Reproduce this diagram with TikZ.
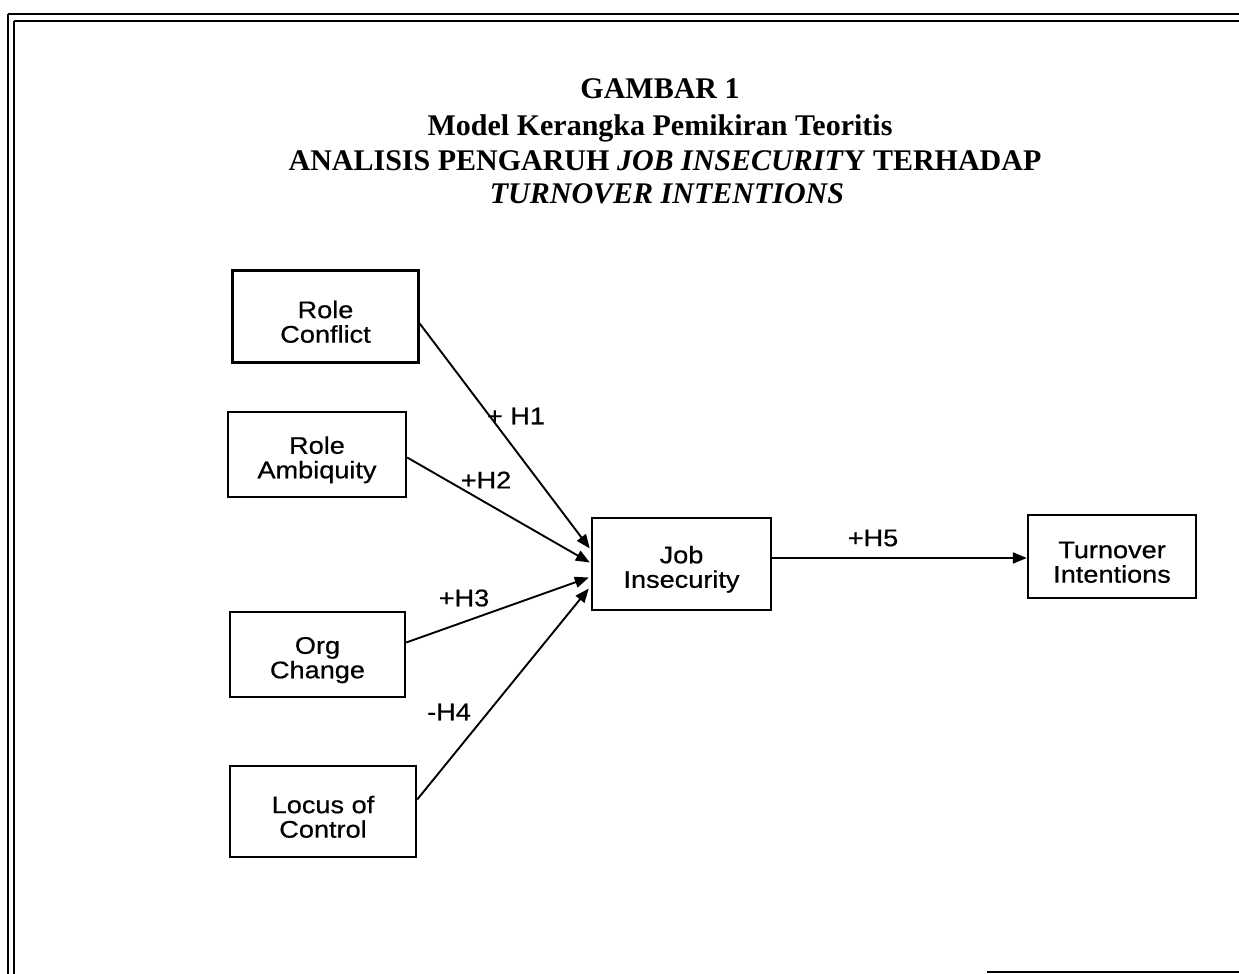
\documentclass[tikz,border=0pt]{standalone}
\usepackage{fontspec}
\setmainfont{Liberation Serif}
\newfontfamily\arialf[FakeStretch=1.13,FakeBold=0.6]{Liberation Sans}
\usetikzlibrary{arrows.meta,calc}
\newcommand\upstr{\rule{0pt}{28pt}}
\begin{document}
\begin{tikzpicture}[x=1pt,y=-1pt,
  box/.style={draw,line width=2.4pt,align=center,font=\arialf\fontsize{24}{24.5}\selectfont,inner sep=0pt},
  lbl/.style={font=\arialf\fontsize{24}{25}\selectfont,inner sep=0pt},
  ttl/.style={font=\fontsize{30}{34}\selectfont\bfseries,anchor=base,inner sep=0pt},
  conn/.style={line width=1.9pt,-{Triangle[length=14pt,width=11pt]}},
  frame/.style={line width=2.8pt}]
\useasboundingbox (0,0) rectangle (1239,974);
% frame
\draw[frame] (8,14) -- (1239,14);
\draw[line width=2pt] (14,21) -- (1239,21);
\draw[frame] (8,14) -- (8,974);
\draw[line width=2pt] (14,21) -- (14,974);
\draw[line width=1.5pt] (987,972) -- (1239,972);
% title
\node[ttl] (t1) at (660,99) {GAMBAR 1};
\node[ttl] (t2) at (660,135) {Model Kerangka Pemikiran Teoritis};
\node[ttl] (t3) at (665,170) {ANALISIS PENGARUH \textit{JOB INSECURIT}Y TERHADAP};
\node[ttl] (t4) at (667,203) {\textit{TURNOVER INTENTIONS}};
% boxes
\node[box,minimum width=186pt,minimum height=92pt] (rc) at (325.5,316.5) {\upstr Role\\Conflict};
\node[box,minimum width=178pt,minimum height=85pt] (ra) at (317,454.5) {\upstr Role\\Ambiquity};
\node[box,minimum width=175pt,minimum height=85pt] (oc) at (317.5,654.5) {\upstr Org\\Change};
\node[box,minimum width=186pt,minimum height=91pt] (lc) at (323,811.5) {\upstr Locus of\\Control};
\node[box,minimum width=179pt,minimum height=92pt] (ji) at (681.5,564) {\upstr Job\\Insecurity};
\node[box,minimum width=168pt,minimum height=83pt] (ti) at (1112,556.5) {\upstr Turnover\\Intentions};
% connectors
\draw[conn] ($(rc.east)+(0,7)$) -- ($(ji.west)+(-1,-15.5)$);
\draw[conn] ($(ra.east)+(0,3)$) -- ($(ji.west)+(-1,-1.5)$);
\draw[conn] ($(oc.east)+(0,-12)$) -- ($(ji.west)+(-2,13.5)$);
\draw[conn] ($(lc.east)+(0,-12)$) -- ($(ji.west)+(-2,24.5)$);
\draw[conn] ($(ji.east)+(0,-6)$) -- ($(ti.west)+(0,1.5)$);
% labels
\node[lbl] (h1) at (516,416) {+ H1};
\node[lbl] (h2) at (486,480) {+H2};
\node[lbl] (h3) at (464,598) {+H3};
\node[lbl] (h4) at (449,712) {-H4};
\node[lbl] (h5) at (873,538) {+H5};
\end{tikzpicture}
\end{document}
